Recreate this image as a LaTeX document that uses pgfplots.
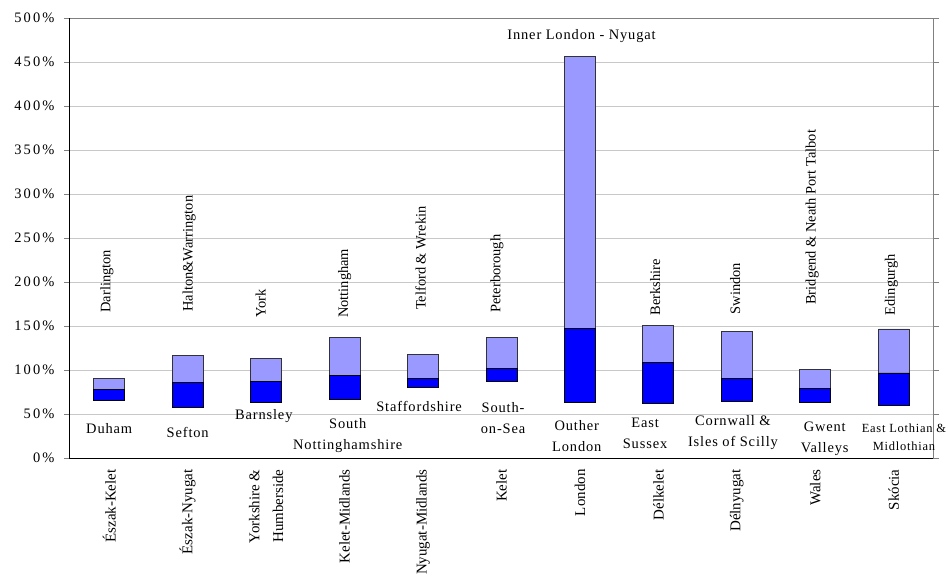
\documentclass[border=0pt]{standalone}
\usepackage{pgfplots}
\pgfplotsset{compat=1.18}
\usepackage{pgfplotstable}
\usepackage{fontspec}
\setmainfont{Liberation Serif}
\newfontfamily\spaced[LetterSpace=6]{Liberation Serif}
\newfontfamily\tickfont[LetterSpace=15]{Liberation Serif}
\definecolor{darkbar}{HTML}{0000FF}
\definecolor{lightbar}{HTML}{9999FF}
\definecolor{gridgray}{HTML}{C8C8C8}
\definecolor{framegray}{HTML}{808080}

\tikzset{
  toplab/.style={rotate=90, anchor=west, inner sep=0pt, font=\fontsize{14.5}{17}\selectfont},
  lowlab/.style={align=center, inner sep=0pt, font=\spaced\fontsize{14.5}{21}\selectfont},
}

% lowest region, regional median, highest region (percent)
\pgfplotstableread{
x lo mid hi
0 65 78 90
1 58 86 116
2 63 87.5 113
3 66.7 93.5 137.5
4 80.7 90.5 117.4
5 87.5 102 136.7
6 63.6 147.3 456
7 62.5 108.7 150.8
8 64.8 90.5 143.6
9 63.3 79.2 100.8
10 59.8 96.6 146.6
}\ranges

\begin{document}
\begin{tikzpicture}
\begin{axis}[
  scale only axis, width=863bp, height=440bp,
  xmin=-0.5, xmax=10.5, ymin=0, ymax=500,
  clip=false,
  ybar stacked, bar width=31bp,
  axis line style={draw=none},
  xtick=data,
  xticklabels={Észak-Kelet, Észak-Nyugat, {Yorkshire \&\\Humberside}, Kelet-Midlands, Nyugat-Midlands, Kelet, London, Délkelet, Délnyugat, Wales, Skócia},
  xticklabel style={rotate=90, anchor=east, align=right, font=\fontsize{15}{24}\selectfont, xshift=-2bp},
  xtick style={draw=none},
  ytick={0,50,...,500},
  yticklabel={\pgfmathprintnumber[assume math mode=true]{\tick}\%},
  yticklabel style={font=\tickfont\fontsize{14.5}{16}\selectfont, xshift=-6bp},
  ytick style={draw=framegray, line width=1bp},
  tick align=outside, major tick length=6bp,
  ymajorgrids, grid style={draw=gridgray, line width=0.9bp},
]
\addplot[draw=none, fill=none] table[x=x, y=lo] {\ranges};
\addplot[fill=darkbar, draw=black, line width=0.9bp] table[x=x, y expr=\thisrow{mid}-\thisrow{lo}] {\ranges};
\addplot[fill=lightbar, draw=black!80, line width=0.9bp] table[x=x, y expr=\thisrow{hi}-\thisrow{mid}] {\ranges};

% highest region of each area
\node[toplab] at (axis cs:-0.03,165) {Darlington};
\node[toplab] at (axis cs:1.02,166) {Halton\&Warrington};
\node[toplab] at (axis cs:1.93,159) {York};
\node[toplab] at (axis cs:3.0,159) {Nottingham};
\node[toplab] at (axis cs:3.97,168) {Telford \& Wrekin};
\node[toplab] at (axis cs:4.94,165) {Peterborough};
\node[toplab] at (axis cs:6.96,162) {Berkshire};
\node[toplab] at (axis cs:7.98,163) {Swindon};
\node[toplab] at (axis cs:8.96,174) {Bridgend \& Neath Port Talbot};
\node[toplab] at (axis cs:9.97,162) {Edingurgh};
\node[inner sep=0pt, font=\spaced\fontsize{14.5}{17}\selectfont] at (axis cs:6.02,480) {Inner London - Nyugat};

% lowest region of each area
\node[lowlab] at (axis cs:0,33) {Duham};
\node[lowlab] at (axis cs:1.0,29.5) {Sefton};
\node[lowlab] at (axis cs:1.97,48) {Barnsley};
\node[lowlab] at (axis cs:3.04,25.6) {South\\Nottinghamshire};
\node[lowlab] at (axis cs:3.95,58) {Staffordshire};
\node[lowlab] at (axis cs:5.02,45) {South-\\on-Sea};
\node[lowlab] at (axis cs:5.96,25) {Outher\\London};
\node[lowlab] at (axis cs:6.83,28) {East\\Sussex};
\node[lowlab] at (axis cs:7.95,28.7) {Cornwall \&\\Isles of Scilly};
\node[lowlab] at (axis cs:9.12,22) {Gwent\\Valleys};
\node[lowlab, font=\spaced\fontsize{12.5}{18}\selectfont] at (axis cs:10.13,24) {East Lothian \&\\Midlothian};

% plot area frame
\draw[framegray, line width=1bp] (rel axis cs:0,1) -- (rel axis cs:1,1) -- (rel axis cs:1,0);
\draw[black, line width=1bp] (rel axis cs:0,1) -- (rel axis cs:0,0) -- (rel axis cs:1,0);
\end{axis}
\pgfresetboundingbox
\path[use as bounding box] (-70bp,-118bp) rectangle (878bp,458bp);
\end{tikzpicture}
\end{document}
